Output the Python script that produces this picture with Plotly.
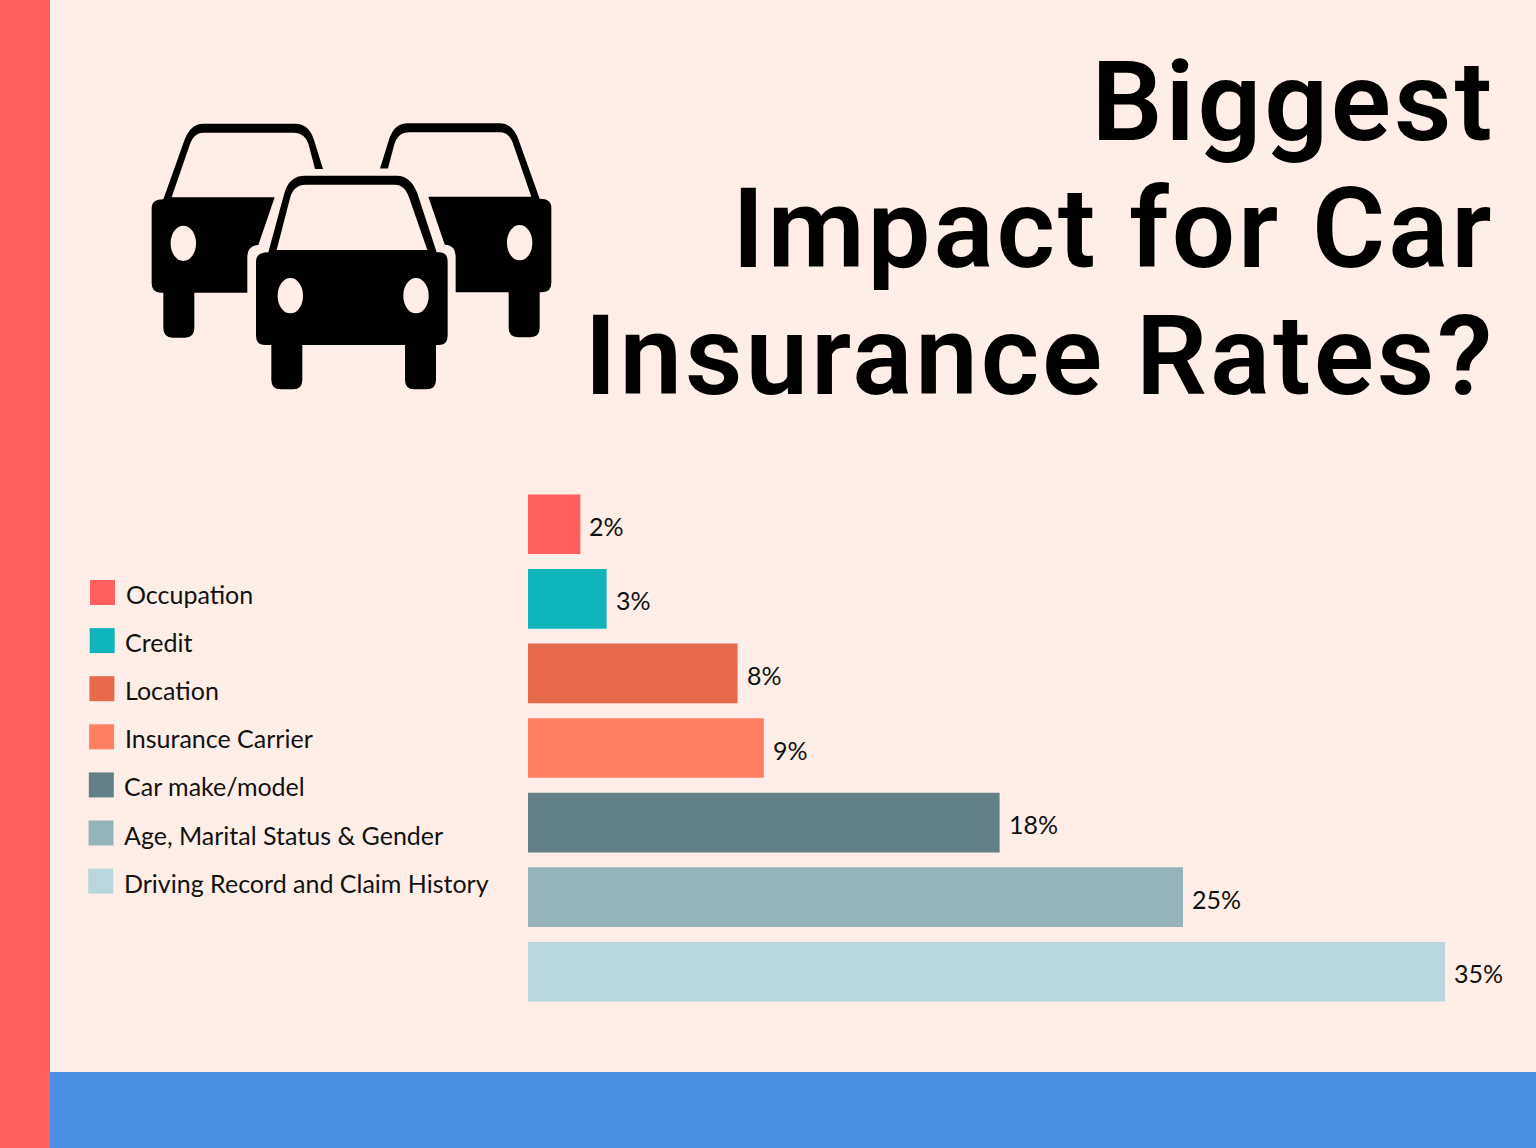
import plotly.graph_objects as go

W, H = 1536, 1148
categories = ["Occupation", "Credit", "Location", "Insurance Carrier", "Car make/model",
              "Age, Marital Status & Gender", "Driving Record and Claim History"]
values = [2, 3, 8, 9, 18, 25, 35]
colors = ["#FF5F5F", "#10B5BC", "#E76A4C", "#FF7F62", "#638087", "#96B3B9", "#B8D6DB"]
title_lines = ["Biggest", "Impact for Car", "Insurance Rates?"]
BG, RED, BLUE = "#FFEEE7", "#FF5F5F", "#4A90E2"
TITLE_FONT = dict(family="Roboto", size=112, color="black", weight=600)
LABEL_FONT = dict(family="Lato", size=25, color="#111111")


def px(x):
    return x / W


def py(y):
    return 1 - y / H


def path(cmds, ox=140, oy=110, s=1 / 3, mirror=None, dy=0):
    out = []
    for c in cmds:
        op, pts = c[0], c[1:]
        seg = []
        for i in range(0, len(pts), 2):
            zx = pts[i] if mirror is None else mirror - pts[i]
            zy = pts[i + 1] + dy
            seg.append(f"{px(ox + zx * s):.5f},{py(oy + zy * s):.5f}")
        out.append(op + " ".join(seg))
    return " ".join(out) + " Z"


side_car = [
    ("M", 70, 268), ("L", 130, 100), ("Q", 148, 41, 190, 41), ("L", 465, 41),
    ("Q", 507, 41, 522, 90), ("L", 549, 177), ("L", 525, 177), ("L", 507, 108),
    ("Q", 497, 68, 460, 68), ("L", 190, 68), ("Q", 160, 68, 148, 108), ("L", 95, 262),
    ("L", 404, 262), ("L", 355, 405), ("Q", 323, 407, 322, 440), ("L", 322, 548),
    ("L", 163, 548), ("L", 163, 655), ("Q", 163, 683, 135, 683), ("L", 98, 683),
    ("Q", 70, 683, 70, 655), ("L", 70, 548), ("L", 62, 548), ("Q", 35, 548, 35, 520),
    ("L", 35, 295), ("Q", 35, 268, 70, 268),
]
front_car = [
    ("M", 385, 427), ("L", 433, 250), ("Q", 447, 197, 495, 197), ("L", 770, 197),
    ("Q", 812, 197, 832, 250), ("L", 890, 427), ("L", 897, 427), ("Q", 923, 427, 923, 455),
    ("L", 923, 677), ("Q", 923, 705, 895, 705), ("L", 888, 705), ("L", 888, 810),
    ("Q", 888, 838, 860, 838), ("L", 823, 838), ("Q", 795, 838, 795, 810), ("L", 795, 705),
    ("L", 487, 705), ("L", 487, 810), ("Q", 487, 838, 459, 838), ("L", 422, 838),
    ("Q", 394, 838, 394, 810), ("L", 394, 705), ("L", 376, 705), ("Q", 348, 705, 348, 677),
    ("L", 348, 455), ("Q", 348, 427, 385, 427),
]
front_window = [
    ("M", 410, 420), ("L", 450, 265), ("Q", 460, 224, 497, 224), ("L", 765, 224),
    ("Q", 795, 224, 808, 265), ("L", 862, 420),
]

fig = go.Figure(go.Bar(
    x=values, y=categories, orientation="h", width=0.8,
    marker=dict(color=colors, line=dict(width=0)),
    cliponaxis=False, showlegend=False, hoverinfo="skip",
))

shapes = [
    dict(type="rect", xref="paper", yref="paper", x0=0, x1=px(50), y0=0, y1=1,
         fillcolor=RED, line_width=0, layer="below"),
    dict(type="rect", xref="paper", yref="paper", x0=px(50), x1=1, y0=0, y1=py(1072),
         fillcolor=BLUE, line_width=0, layer="below"),
]
for p in (path(side_car), path(side_car, mirror=1269, dy=-1.5), path(front_car)):
    shapes.append(dict(type="path", xref="paper", yref="paper", path=p,
                       fillcolor="black", line_width=0))
shapes.append(dict(type="path", xref="paper", yref="paper", path=path(front_window),
                   fillcolor=BG, line_width=0))
for cx, cy in [(130, 400), (1139, 398), (451, 557), (828, 557)]:
    x, y = 140 + cx / 3, 110 + cy / 3
    shapes.append(dict(type="circle", xref="paper", yref="paper", fillcolor=BG, line_width=0,
                       x0=px(x - 12.7), x1=px(x + 12.7), y0=py(y + 17.7), y1=py(y - 17.7)))

annotations = []
for line, base in zip(title_lines, [140, 267, 394]):
    annotations.append(dict(text=line, xref="paper", yref="paper", x=px(1492), y=py(base + 27),
                            xanchor="right", yanchor="bottom", showarrow=False, font=TITLE_FONT,
                            borderpad=0, borderwidth=0))
for i, (name, col) in enumerate(zip(categories, colors)):
    cy = 592.5 + i * 48.1
    left = 90 - i * 0.3
    shapes.append(dict(type="rect", xref="paper", yref="paper", x0=px(left), x1=px(left + 25),
                       y0=py(cy + 12.5), y1=py(cy - 12.5), fillcolor=col, line_width=0))
    annotations.append(dict(text=name, xref="paper", yref="paper", x=px(left + 33.5), y=py(cy + 1.5),
                            xanchor="left", yanchor="middle", showarrow=False, font=LABEL_FONT))
for name, v in zip(categories, values):
    annotations.append(dict(text=f"{v}%", xref="x", yref="y", x=v, y=name, xshift=7, yshift=-1.5,
                            xanchor="left", yanchor="middle", showarrow=False, font=LABEL_FONT))

fig.update_layout(
    width=W, height=H, margin=dict(l=0, r=0, t=0, b=0), autosize=False,
    paper_bgcolor=BG, plot_bgcolor="rgba(0,0,0,0)", showlegend=False,
    shapes=shapes, annotations=annotations,
    xaxis=dict(domain=[px(528), 1], range=[0, (W - 528) / 26.2], visible=False),
    yaxis=dict(domain=[py(1009), py(487)], type="category", categoryorder="array",
               categoryarray=categories, range=[6.5, -0.5], visible=False),
)
SPACING = """
document.body.style.margin = '0';
document.querySelectorAll('.annotation-text').forEach(function (t) {
  if (parseFloat(getComputedStyle(t).fontSize) > 100) {
    var before = t.getComputedTextLength();
    t.style.letterSpacing = '2.9px';
    var after = t.getComputedTextLength();
    t.setAttribute('x', parseFloat(t.getAttribute('x')) - (after - before) / 2 + 2.9);
  }
});
"""
fig.write_html("out.html", config=dict(displayModeBar=False), post_script=SPACING)
